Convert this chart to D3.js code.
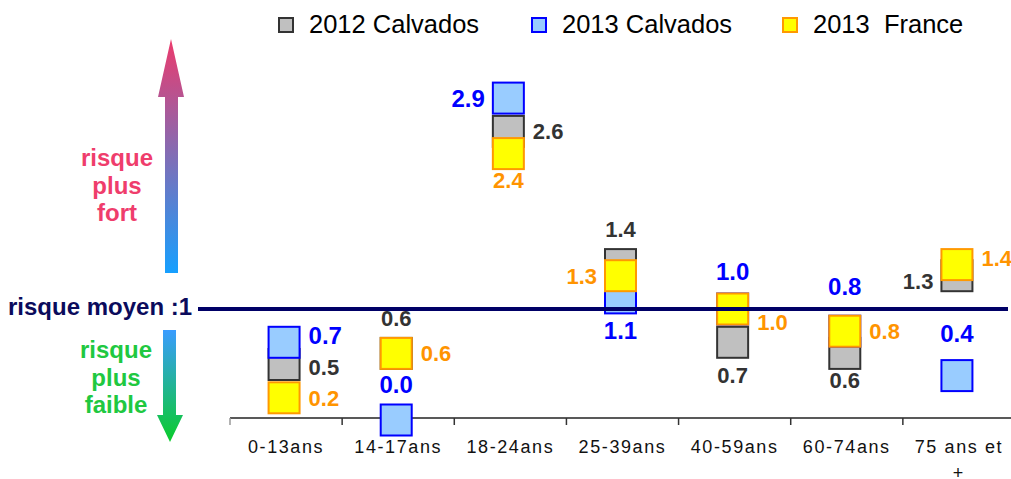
<!DOCTYPE html>
<head>
  <meta charset="utf-8">
  <script src="https://d3js.org/d3.v7.min.js"></script>
  <style>
    body { margin: 0; background: #fff; }
    svg { display: block; }
  </style>
</head>
<body>
  <svg width="1011" height="479"></svg>
  <script>
    // age groups and relative risk values (1 = average risk)
    var categories = ['0-13ans', '14-17ans', '18-24ans', '25-39ans', '40-59ans', '60-74ans', '75 ans et +'];
    var seriesNames = ['2012 Calvados', '2013 Calvados', '2013  France'];
    var calvados2012 = [0.5, 0.6, 2.6, 1.4, 0.7, 0.6, 1.3];
    var calvados2013 = [0.7, 0.0, 2.9, 1.1, 1.0, 0.8, 0.4];
    var france2013 = [0.2, 0.6, 2.4, 1.3, 1.0, 0.8, 1.4];
    var averageRisk = 1;

    // where each value label sits next to its square
    var sides = [
      ['right', 'above', 'right', 'above', 'below', 'below', 'left'],
      ['right', 'above', 'left', 'below', 'above', 'above', 'above'],
      ['right', 'right', 'below', 'left', 'right', 'right', 'right']
    ];
    var nudge = {
      '0|0': 3, '1|0': -7, '1|4': -2, '1|5': -9, '1|6': -6, '1|3': 5,
      '2|4': 13, '2|6': -6, '0|4': 6, '0|6': 5
    };

    var styles = [
      { fill: '#c0c0c0', stroke: '#333333', text: '#333333', size: 22 },
      { fill: '#99ccff', stroke: '#0000ff', text: '#0000ff', size: 24 },
      { fill: '#ffff00', stroke: '#ff9900', text: '#ff9400', size: 22 }
    ];
    var allSeries = [calvados2012, calvados2013, france2013];

    var svg = d3.select('svg');
    var fmt = d3.format('.1f');

    var x = d3.scaleBand().domain(categories).range([230, 1015]);
    var y = d3.scaleLinear().domain([0, 3]).range([420, 87]);
    var axisY = 418;
    var half = 15.5;

    // gradients for the arrows
    var defs = svg.append('defs');
    function grad(id, y1, y2, c1, c2) {
      var g = defs.append('linearGradient').attr('id', id)
        .attr('gradientUnits', 'userSpaceOnUse')
        .attr('x1', 0).attr('x2', 0).attr('y1', y1).attr('y2', y2);
      g.append('stop').attr('offset', 0).attr('stop-color', c1);
      g.append('stop').attr('offset', 1).attr('stop-color', c2);
    }
    grad('up', 39, 273, '#ec3a6c', '#16a0ff');
    grad('down', 330, 442, '#3a9cff', '#0acc2a');

    svg.append('path')
      .attr('d', 'M165,273 L165,97 L158,97 L171,39 L184,97 L178,97 L178,273 Z')
      .attr('fill', 'url(#up)');
    svg.append('path')
      .attr('d', 'M163,330 L163,415 L157,415 L170,442 L183,415 L176,415 L176,330 Z')
      .attr('fill', 'url(#down)');

    function stackText(lines, cx, y0, color) {
      svg.append('text')
        .attr('text-anchor', 'middle')
        .attr('font-family', 'Liberation Sans, Arial, sans-serif')
        .attr('font-weight', 'bold')
        .attr('font-size', 24)
        .attr('fill', color)
        .selectAll('tspan')
        .data(lines)
        .enter()
        .append('tspan')
        .attr('x', cx)
        .attr('y', function (d, i) { return y0 + i * 27.5; })
        .text(function (d) { return d; });
    }
    stackText(['risque', 'plus', 'fort'], 117, 166, '#ef3d6c');
    stackText(['risque', 'plus', 'faible'], 116, 358, '#20c840');

    svg.append('text')
      .attr('x', 8)
      .attr('y', 315)
      .attr('font-family', 'Liberation Sans, Arial, sans-serif')
      .attr('font-weight', 'bold')
      .attr('font-size', 24)
      .attr('fill', '#0b0b5c')
      .text('risque moyen :' + averageRisk);

    // legend
    var legendX = [278, 531, 782];
    var legend = svg.selectAll('.legend')
      .data(seriesNames)
      .enter()
      .append('g')
      .attr('transform', function (d, i) { return 'translate(' + legendX[i] + ',0)'; });
    legend.append('rect')
      .attr('x', 1).attr('y', 18).attr('width', 14).attr('height', 14)
      .attr('fill', function (d, i) { return styles[i].fill; })
      .attr('stroke', function (d, i) { return styles[i].stroke; })
      .attr('stroke-width', 2);
    legend.append('text')
      .attr('x', 31).attr('y', 33)
      .attr('font-family', 'Liberation Sans, Arial, sans-serif')
      .attr('font-size', 25.5)
      .attr('fill', '#000')
      .style('white-space', 'pre')
      .text(function (d) { return d; });

    // x axis
    var xAxis = d3.axisBottom(x).tickSize(0).tickPadding(22);
    var gx = svg.append('g')
      .attr('transform', 'translate(0,' + axisY + ')')
      .call(xAxis);
    gx.select('.domain').remove();
    gx.selectAll('text')
      .attr('font-family', 'Liberation Sans, Arial, sans-serif')
      .attr('font-size', 18)
      .attr('letter-spacing', 1.6)
      .attr('fill', '#111')
      .each(function (d) {
        var t = d3.select(this);
        var words = d.split(' ');
        if (words.length > 1 && this.getComputedTextLength() > x.bandwidth() - 10) {
          var last = words.pop();
          t.text(null);
          t.append('tspan').attr('x', 0).attr('dy', '0.71em').text(words.join(' '));
          t.append('tspan').attr('x', 0).attr('dy', 26).text(last);
          t.attr('dy', null);
        }
      });
    svg.append('line')
      .attr('x1', 230).attr('x2', 1011)
      .attr('y1', axisY).attr('y2', axisY)
      .attr('stroke', '#222').attr('stroke-width', 1.5);
    svg.selectAll('.tick-mark')
      .data(categories)
      .enter()
      .append('line')
      .attr('x1', function (d) { return x(d); })
      .attr('x2', function (d) { return x(d); })
      .attr('y1', axisY).attr('y2', axisY + 7)
      .attr('stroke', function (d, i) { return i === 0 ? '#999' : '#333'; })
      .attr('stroke-width', 1.5);

    // squares: gray first, then blue, then yellow on top
    allSeries.forEach(function (vals, s) {
      svg.append('g')
        .selectAll('rect')
        .data(vals)
        .enter()
        .append('rect')
        .attr('x', function (d, i) { return x(categories[i]) + x.bandwidth() / 2 - half - 2; })
        .attr('y', function (d) { return y(d) - half; })
        .attr('width', half * 2)
        .attr('height', half * 2)
        .attr('fill', styles[s].fill)
        .attr('stroke', styles[s].stroke)
        .attr('stroke-width', 2);
    });

    // value labels
    allSeries.forEach(function (vals, s) {
      var st = styles[s];
      var cap = st.size * 0.716;
      svg.append('g')
        .selectAll('text')
        .data(vals)
        .enter()
        .append('text')
        .attr('font-family', 'Liberation Sans, Arial, sans-serif')
        .attr('font-weight', 'bold')
        .attr('font-size', st.size)
        .attr('fill', st.text)
        .each(function (d, i) {
          var cx = x(categories[i]) + x.bandwidth() / 2 - 2;
          var cy = y(d);
          var side = sides[s][i];
          var dy = nudge[s + '|' + i] || 0;
          var tx = cx, ty = cy + cap / 2, anchor = 'middle';
          if (side === 'right') { tx = cx + half + 9; anchor = 'start'; }
          if (side === 'left') { tx = cx - half - 8; anchor = 'end'; }
          if (side === 'above') { ty = cy - half - 12; }
          if (side === 'below') { ty = cy + half + 3 + cap; }
          d3.select(this)
            .attr('x', tx)
            .attr('y', ty + dy)
            .attr('text-anchor', anchor)
            .text(fmt(d));
        });
    });

    // average risk line on top
    svg.append('line')
      .attr('x1', 198).attr('x2', 1008)
      .attr('y1', y(averageRisk)).attr('y2', y(averageRisk))
      .attr('stroke', '#000066')
      .attr('stroke-width', 4);
  </script>
</body>
